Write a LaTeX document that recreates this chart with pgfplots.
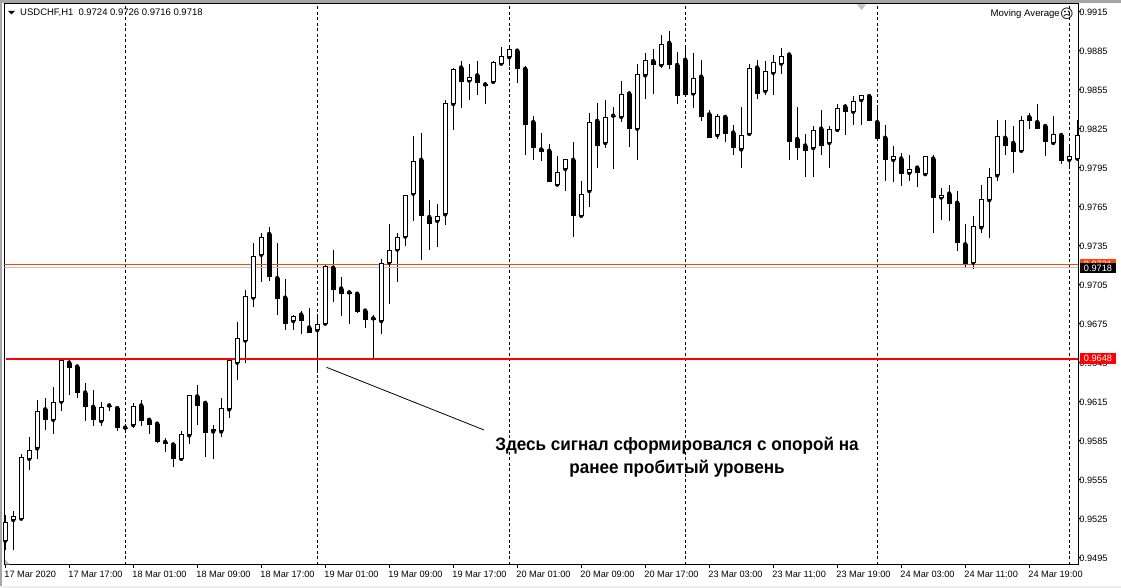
\documentclass[border=0pt]{standalone}
\usepackage{pgfplots}
\usepackage{pgfplotstable}
\usepackage{fontspec}
\pgfplotsset{compat=1.18}
\setmainfont{Liberation Sans}
\newfontfamily\annotfont[FakeStretch=0.95]{Liberation Sans}
\newfontfamily\symfont{DejaVu Sans}
\definecolor{orangered}{HTML}{FF4500}
\definecolor{greyline}{HTML}{C0C0C0}
\pgfdeclareplotmark{whitebody}{%
  \pgfsetlinewidth{1pt}\pgfsetstrokecolor{black}\pgfsetfillcolor{white}%
  \pgfpathrectangle{\pgfpoint{-2pt}{0.5pt}}{\pgfpoint{4pt}{\bodyh pt-1pt}}%
  \pgfusepathqfillstroke}
\pgfdeclareplotmark{blackbody}{%
  \pgfsetfillcolor{black}%
  \pgfpathrectangle{\pgfpoint{-2.5pt}{0pt}}{\pgfpoint{5pt}{\bodyh pt}}%
  \pgfusepathqfill}
\pgfplotstableread{
i o h l c
0 0.9508 0.9528 0.9501 0.9522
1 0.9524 0.9531 0.9501 0.9527
2 0.9525 0.9575 0.9524 0.9572
3 0.9571 0.9588 0.9562 0.9578
4 0.9579 0.9616 0.9571 0.9608
6 0.9601 0.9626 0.9590 0.9615
7 0.9615 0.9648 0.9608 0.9647
12 0.9600 0.9615 0.9596 0.9611
16 0.9597 0.9614 0.9595 0.9612
22 0.9571 0.9592 0.9571 0.9590
23 0.9589 0.9620 0.9582 0.9620
26 0.9592 0.9597 0.9571 0.9594
27 0.9592 0.9618 0.9588 0.9610
28 0.9609 0.9648 0.9602 0.9647
29 0.9645 0.9676 0.9632 0.9664
30 0.9662 0.9701 0.9645 0.9696
31 0.9695 0.9737 0.9688 0.9727
32 0.9728 0.9745 0.9707 0.9742
36 0.9677 0.9682 0.9670 0.9681
39 0.9670 0.9681 0.9637 0.9675
40 0.9675 0.9720 0.9675 0.9719
47 0.9677 0.9725 0.9667 0.9722
48 0.9722 0.9752 0.9690 0.9732
49 0.9732 0.9745 0.9707 0.9742
50 0.9742 0.9774 0.9735 0.9774
51 0.9775 0.9819 0.9754 0.9800
54 0.9754 0.9767 0.9734 0.9758
55 0.9759 0.9847 0.9751 0.9845
56 0.9844 0.9872 0.9824 0.9871
58 0.9862 0.9875 0.9847 0.9865
61 0.9861 0.9877 0.9860 0.9876
62 0.9875 0.9888 0.9875 0.9881
63 0.9880 0.9889 0.9873 0.9886
69 0.9782 0.9804 0.9780 0.9792
70 0.9794 0.9802 0.9777 0.9802
72 0.9758 0.9785 0.9757 0.9775
73 0.9777 0.9837 0.9765 0.9830
75 0.9814 0.9847 0.9810 0.9834
77 0.9834 0.9862 0.9830 0.9852
79 0.9825 0.9875 0.9801 0.9867
80 0.9866 0.9883 0.9848 0.9878
82 0.9874 0.9897 0.9872 0.9890
86 0.9852 0.9883 0.9841 0.9864
89 0.9820 0.9836 0.9817 0.9835
92 0.9809 0.9842 0.9795 0.9820
93 0.9821 0.9875 0.9821 0.9872
95 0.9854 0.9877 0.9851 0.9869
96 0.9868 0.9882 0.9851 0.9876
97 0.9875 0.9887 0.9867 0.9881
101 0.9810 0.9827 0.9788 0.9824
103 0.9814 0.9827 0.9795 0.9825
104 0.9824 0.9844 0.9824 0.9841
106 0.9838 0.9850 0.9828 0.9846
107 0.9847 0.9851 0.9828 0.9851
111 0.9801 0.9812 0.9784 0.9804
113 0.9791 0.9805 0.9785 0.9794
115 0.9790 0.9804 0.9790 0.9804
117 0.9772 0.9779 0.9755 0.9774
121 0.9722 0.9758 0.9717 0.9750
122 0.9749 0.9782 0.9745 0.9771
123 0.9770 0.9795 0.9741 0.9788
124 0.9789 0.9832 0.9785 0.9819
127 0.9808 0.9835 0.9807 0.9832
131 0.9814 0.9835 0.9814 0.9821
133 0.9801 0.9811 0.9794 0.9804
134 0.9802 0.9832 0.9800 0.9820
}\whitecandles
\pgfplotstableread{
i o h l c
5 0.9609 0.9618 0.9593 0.9601
8 0.9645 0.9648 0.9620 0.9641
9 0.9642 0.9643 0.9618 0.9622
10 0.9622 0.9629 0.9600 0.9611
11 0.9611 0.9624 0.9596 0.9601
13 0.9612 0.9614 0.9608 0.9611
14 0.9610 0.9611 0.9592 0.9595
15 0.9595 0.9597 0.9593 0.9594
17 0.9612 0.9616 0.9596 0.9600
18 0.9601 0.9601 0.9590 0.9597
19 0.9598 0.9598 0.9583 0.9584
20 0.9584 0.9587 0.9576 0.9582
21 0.9582 0.9583 0.9565 0.9571
24 0.9619 0.9628 0.9597 0.9612
25 0.9614 0.9615 0.9572 0.9591
33 0.9744 0.9749 0.9708 0.9711
34 0.9710 0.9737 0.9682 0.9694
35 0.9695 0.9709 0.9670 0.9675
37 0.9682 0.9685 0.9667 0.9677
38 0.9672 0.9687 0.9668 0.9668
41 0.9718 0.9732 0.9692 0.9701
42 0.9702 0.9711 0.9681 0.9698
43 0.9699 0.9701 0.9675 0.9698
44 0.9698 0.9698 0.9683 0.9684
45 0.9685 0.9685 0.9672 0.9678
46 0.9679 0.9682 0.9648 0.9678
52 0.9801 0.9822 0.9724 0.9758
53 0.9757 0.9770 0.9732 0.9752
57 0.9872 0.9877 0.9841 0.9861
59 0.9866 0.9877 0.9851 0.9860
60 0.9859 0.9861 0.9844 0.9858
64 0.9885 0.9886 0.9860 0.9871
65 0.9871 0.9873 0.9805 0.9828
66 0.9830 0.9835 0.9801 0.9810
67 0.9809 0.9822 0.9800 0.9807
68 0.9808 0.9813 0.9784 0.9784
71 0.9801 0.9815 0.9742 0.9758
74 0.9831 0.9845 0.9795 0.9812
76 0.9835 0.9842 0.9794 0.9834
78 0.9852 0.9854 0.9811 0.9825
81 0.9877 0.9886 0.9852 0.9874
83 0.9891 0.9900 0.9871 0.9874
84 0.9874 0.9884 0.9844 0.9850
85 0.9878 0.9889 0.9849 0.9851
87 0.9865 0.9878 0.9831 0.9834
88 0.9836 0.9839 0.9818 0.9818
90 0.9834 0.9835 0.9815 0.9821
91 0.9822 0.9828 0.9805 0.9810
94 0.9872 0.9878 0.9848 0.9852
98 0.9882 0.9882 0.9801 0.9815
99 0.9817 0.9842 0.9801 0.9810
100 0.9812 0.9821 0.9788 0.9808
102 0.9825 0.9839 0.9805 0.9812
105 0.9842 0.9844 0.9820 0.9838
108 0.9850 0.9851 0.9831 0.9831
109 0.9830 0.9842 0.9817 0.9817
110 0.9818 0.9828 0.9785 0.9801
112 0.9802 0.9806 0.9781 0.9790
114 0.9795 0.9795 0.9780 0.9791
116 0.9802 0.9805 0.9745 0.9772
118 0.9775 0.9782 0.9754 0.9767
119 0.9768 0.9777 0.9731 0.9737
120 0.9736 0.9752 0.9718 0.9721
125 0.9818 0.9832 0.9805 0.9812
126 0.9814 0.9827 0.9791 0.9807
128 0.9834 0.9837 0.9825 0.9831
129 0.9830 0.9844 0.9825 0.9825
130 0.9827 0.9827 0.9804 0.9815
132 0.9820 0.9822 0.9798 0.9800
}\blackcandles
\begin{document}
\begin{tikzpicture}[x=1pt,y=1pt]
\path[use as bounding box] (0,0) rectangle (1121,588);
\fill[white] (0,0) rectangle (1121,588);
\fill[gray!70] (0,585) rectangle (1121,588);
\fill[gray!70] (0,0) rectangle (1.5,588);
\fill[gray!12] (0,0) rectangle (1121,2);
\begin{axis}[
  name=main, at={(5.5,18)}, anchor=south west,
  scale only axis, width=1074pt, height=561pt,
  xmin=-0.1, xmax=134.15, ymin=0.94896, ymax=0.99212,
  axis line style={line width=1pt, black},
  tick style={black, line width=1pt},
  major tick length=3pt, tick align=outside,
  xtick pos=bottom, ytick pos=right, yticklabel pos=right,
  xtick={0,8,...,128},
  xticklabels={17 Mar 2020,17 Mar 17:00,18 Mar 01:00,18 Mar 09:00,18 Mar 17:00,19 Mar 01:00,19 Mar 09:00,19 Mar 17:00,20 Mar 01:00,20 Mar 09:00,20 Mar 17:00,23 Mar 03:00,23 Mar 11:00,23 Mar 19:00,24 Mar 03:00,24 Mar 11:00,24 Mar 19:00},
  ytick={0.9495,0.9525,0.9555,0.9585,0.9615,0.9645,0.9675,0.9705,0.9735,0.9765,0.9795,0.9825,0.9855,0.9885,0.9915},
  yticklabels={0.9495,0.9525,0.9555,0.9585,0.9615,0.9645,0.9675,0.9705,0.9735,0.9765,0.9795,0.9825,0.9855,0.9885,0.9915},
  scaled y ticks=false,
  clip mode=global,
  tick label style={font=\fontsize{9.2}{11}\selectfont, inner sep=0pt},
  xticklabel style={anchor=north west, xshift=-1pt, yshift=-3pt},
  yticklabel style={anchor=west, xshift=-2.2pt, yshift=-1pt},
]
% dashed period separators
\addplot[black, line width=1pt, dash pattern=on 3pt off 2.5pt, forget plot] coordinates {(15,0.94896) (15,0.99212)};
\addplot[black, line width=1pt, dash pattern=on 3pt off 2.5pt, forget plot] coordinates {(39,0.94896) (39,0.99212)};
\addplot[black, line width=1pt, dash pattern=on 3pt off 2.5pt, forget plot] coordinates {(63,0.94896) (63,0.99212)};
\addplot[black, line width=1pt, dash pattern=on 3pt off 2.5pt, forget plot] coordinates {(85,0.94896) (85,0.99212)};
\addplot[black, line width=1pt, dash pattern=on 3pt off 2.5pt, forget plot] coordinates {(109,0.94896) (109,0.99212)};
\addplot[black, line width=1pt, dash pattern=on 3pt off 2.5pt, forget plot] coordinates {(133,0.94896) (133,0.99212)};
% wicks
\addplot[only marks, mark=none, forget plot, error bars/.cd, y dir=both, y explicit, error mark=none, error bar style={line width=1pt, line cap=butt, black, solid}]
  table[x=i, y=o, y error plus expr=\thisrow{h}-\thisrow{o}, y error minus expr=\thisrow{o}-\thisrow{l}] {\whitecandles};
\addplot[only marks, mark=none, forget plot, error bars/.cd, y dir=both, y explicit, error mark=none, error bar style={line width=1pt, line cap=butt, black, solid}]
  table[x=i, y=o, y error plus expr=\thisrow{h}-\thisrow{o}, y error minus expr=\thisrow{o}-\thisrow{l}] {\blackcandles};
% bodies: a rectangle from the lower of open and close, as high as their difference
\addplot[only marks, mark=blackbody, forget plot,
  visualization depends on={(\thisrow{o}-\thisrow{c})*12998 \as \bodyh}]
  table[x=i, y=c] {\blackcandles};
\addplot[only marks, mark=whitebody, forget plot,
  visualization depends on={(\thisrow{c}-\thisrow{o})*12998 \as \bodyh}]
  table[x=i, y=o] {\whitecandles};
% price lines
\addplot[draw=greyline, line width=1pt, forget plot] coordinates {(-0.1,0.9718) (134.15,0.9718)};
\addplot[draw=orangered, line width=1.2pt, yshift=-0.5pt, forget plot] coordinates {(-0.1,0.9721) (134.15,0.9721)};
\addplot[draw=red, line width=2pt, forget plot] coordinates {(0.1,0.9648) (134.15,0.9648)};
\end{axis}
% chart window furniture
\fill[black] (8,577) -- (15,577) -- (11.5,573.5) -- cycle;
\node[anchor=west, inner sep=0pt, font=\fontsize{9.5}{11}\selectfont] at (20,575) {USDCHF,H1\hspace{5pt}0.9724 0.9726 0.9716 0.9718};
\node[anchor=east, inner sep=0pt, font=\fontsize{9.6}{11}\selectfont] at (1060,574) {Moving Average};
\node[inner sep=0pt, font=\symfont\fontsize{13}{13}\selectfont] at (1067,574) {☹};
\fill[greyline] (857,583.5) -- (866,583.5) -- (861.5,578) -- cycle;
\fill[greyline] (5,23.5) -- (10,23.5) -- (5,28.5) -- cycle;
% price flags
\fill[orangered] (1080,319) rectangle (1116,329);
\node[inner sep=0pt, white, font=\fontsize{9.2}{11}\selectfont] at (1098,324) {0.9721};
\fill[black] (1080,314.5) rectangle (1116,325);
\node[inner sep=0pt, white, font=\fontsize{9.2}{11}\selectfont] at (1098,319.7) {0.9718};
\fill[red] (1080,224) rectangle (1116,234.5);
\node[inner sep=0pt, white, font=\fontsize{9.2}{11}\selectfont] at (1098,229.3) {0.9648};
% annotation
\draw[black, line width=0.8pt] (326.5,220.7) -- (484,158);
\node[inner sep=0pt, align=center, font=\annotfont\bfseries\fontsize{18}{23}\selectfont] at (677,130.5) {Здесь сигнал сформировался с опорой на\\ранее пробитый уровень};
\end{tikzpicture}
\end{document}
